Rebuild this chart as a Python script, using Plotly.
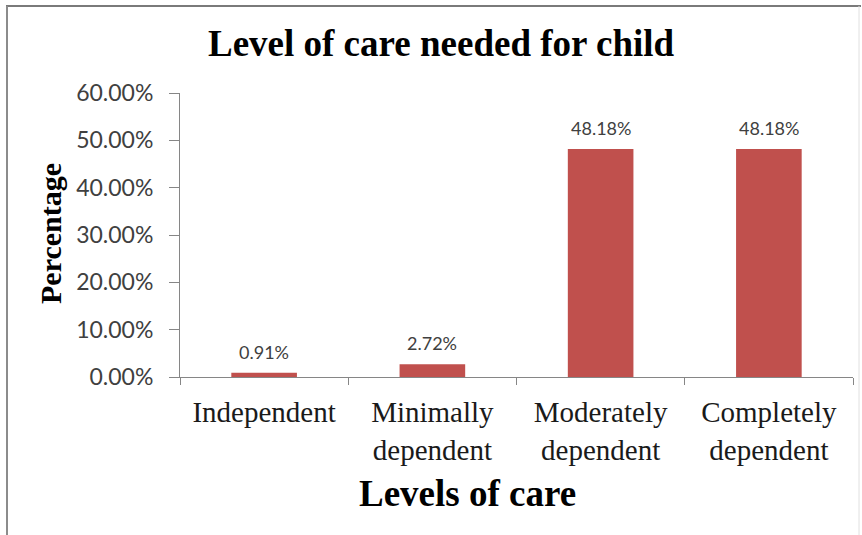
import plotly.graph_objects as go

# Care levels and the share of children at each level (percent)
categories = ["Independent", "Minimally<br>dependent", "Moderately<br>dependent", "Completely<br>dependent"]
percentages = [0.91, 2.72, 48.18, 48.18]
y_ticks = [0, 10, 20, 30, 40, 50, 60]
y_tick_labels = [f"{t:.2f}%" for t in y_ticks]

W, H = 862, 535
M_L, M_R, M_T, M_B = 180, 9, 93, 158
PW, PH = W - M_L - M_R, H - M_T - M_B


def px_x(p):
    return (p - M_L) / PW


def px_y(p):
    return (H - M_B - p) / PH


SERIF = "Liberation Serif, Times New Roman, serif"
SANS = "Lato, Open Sans, sans-serif"
BAR = "#C0504D"
AXIS = "#868686"

fig = go.Figure()
fig.add_trace(go.Bar(
    x=categories,
    y=percentages,
    marker=dict(color=BAR, line=dict(width=0)),
    hoverinfo="skip",
))

# value labels above each bar
for c, v in zip(categories, percentages):
    fig.add_annotation(
        x=c, y=v, xref="x", yref="y", text=f"{v:.2f}%",
        showarrow=False, yanchor="bottom", yshift=8,
        font=dict(family=SANS, size=18, color="#404040"),
    )

# chart title and axis titles
fig.add_annotation(
    x=px_x(441), y=px_y(43), xref="paper", yref="paper",
    text="<b>Level of care needed for child</b>", showarrow=False,
    xanchor="center", yanchor="middle",
    font=dict(family=SERIF, size=37, color="#000000"),
)
fig.add_annotation(
    x=px_x(467), y=px_y(493), xref="paper", yref="paper",
    text="<b>Levels of care</b>", showarrow=False,
    xanchor="center", yanchor="middle",
    font=dict(family=SERIF, size=37, color="#000000"),
)
fig.add_annotation(
    x=px_x(50), y=px_y(234), xref="paper", yref="paper",
    text="<b>Percentage</b>", showarrow=False, textangle=-90,
    xanchor="center", yanchor="middle",
    font=dict(family=SERIF, size=30, color="#000000"),
)

# outer chart frame
fig.add_shape(type="line", xref="paper", yref="paper",
              x0=px_x(6), x1=px_x(861), y0=px_y(6), y1=px_y(6),
              line=dict(color="#7a7a7a", width=2))
fig.add_shape(type="line", xref="paper", yref="paper",
              x0=px_x(7), x1=px_x(7), y0=px_y(6), y1=px_y(540),
              line=dict(color="#8c8c8c", width=2))
fig.add_shape(type="line", xref="paper", yref="paper",
              x0=px_x(859), x1=px_x(859), y0=px_y(6), y1=px_y(540),
              line=dict(color="#e0e0e0", width=1))

fig.update_layout(
    width=W, height=H,
    margin=dict(l=M_L, r=M_R, t=M_T, b=M_B, pad=0),
    paper_bgcolor="white", plot_bgcolor="white",
    showlegend=False,
    bargap=0.61,
    xaxis=dict(
        type="category",
        showline=True, linecolor=AXIS, linewidth=1,
        ticks="outside", tickson="boundaries", ticklen=7, tickcolor=AXIS,
        tickfont=dict(family=SERIF, size=29, color="#1a1a1a"),
        ticklabelstandoff=9,
        showgrid=False, zeroline=False, fixedrange=True,
    ),
    yaxis=dict(
        range=[0, 60],
        tickvals=y_ticks, ticktext=y_tick_labels,
        showline=True, linecolor=AXIS, linewidth=1,
        ticks="outside", ticklen=10, tickcolor=AXIS,
        tickfont=dict(family=SANS, size=23, color="#404040"),
        ticklabelstandoff=11,
        showgrid=False, zeroline=False, fixedrange=True,
    ),
)

fig.write_html("out.html")
